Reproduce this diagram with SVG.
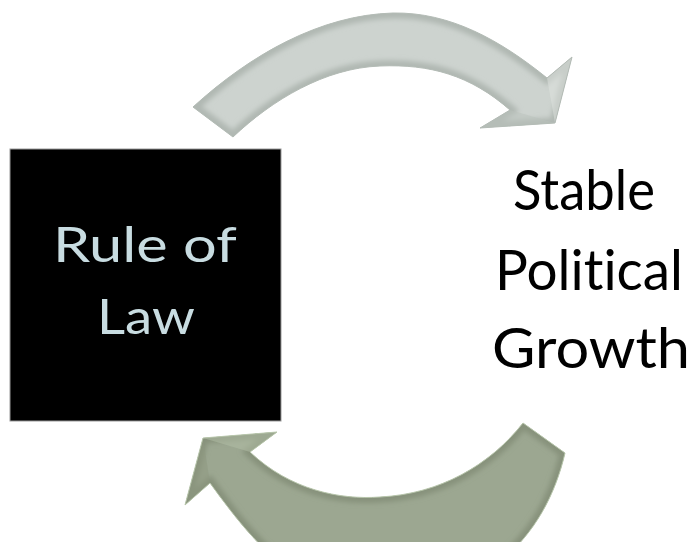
<svg xmlns="http://www.w3.org/2000/svg" width="691" height="542" viewBox="0 0 691 542">
  <defs>
    <style>
      .label { font-family: Lato, "Open Sans", "DejaVu Sans", sans-serif; font-variant-ligatures: none; }
      .label-light { font-size: 48px; fill: #c8dce1; }
      .label-dark { font-size: 56px; fill: #000000; }
    </style>
    <!-- curved arrow outlines -->
    <path id="arrowTop" d="M193,107 C250,55 320,15 393,13 C450,12 500,40 547,78 L572,57 L555,123 L480,128 L510,110 C470,75 430,64 380,66 C325,68 272,100 233,137 Z"/>
    <path id="arrowBottom" d="M565,453 C545,540 480,600 385,600 C300,600 255,545 210,483 L185,505 L203,438 L277,432 L250,452 C290,490 340,500 380,497 C440,494 490,465 523,423 Z"/>
    <clipPath id="clipTop"><use href="#arrowTop"/></clipPath>
    <clipPath id="clipBottom"><use href="#arrowBottom"/></clipPath>
    <filter id="soften" x="-10%" y="-10%" width="120%" height="120%">
      <feGaussianBlur stdDeviation="2.5"/>
    </filter>
  </defs>

  <rect width="691" height="542" fill="#ffffff"/>

  <g id="connectors">
    <!-- upper arrow: Rule of Law -> Stable Political Growth -->
    <g id="arrow-top">
      <use href="#arrowTop" fill="#cdd3cf"/>
      <g clip-path="url(#clipTop)">
        <use href="#arrowTop" fill="none" stroke="#b0b8b2" stroke-width="11" filter="url(#soften)"/>
        <!-- arrowhead facets -->
        <polygon points="547,78 572,57 555,123" fill="#dfe4e0" opacity="0.5"/>
        <polygon points="510,110 480,128 555,123" fill="#bac2bc" opacity="0.5"/>
      </g>
      <use href="#arrowTop" fill="none" stroke="#b4bcb6" stroke-width="1"/>
    </g>
    <!-- lower arrow: Stable Political Growth -> Rule of Law -->
    <g id="arrow-bottom">
      <use href="#arrowBottom" fill="#9ca791"/>
      <g clip-path="url(#clipBottom)">
        <use href="#arrowBottom" fill="none" stroke="#87927c" stroke-width="11" filter="url(#soften)"/>
        <!-- arrowhead facets -->
        <polygon points="250,452 277,432 203,438" fill="#b3bfa8" opacity="0.5"/>
        <polygon points="210,483 185,505 203,438" fill="#8d987f" opacity="0.5"/>
      </g>
      <use href="#arrowBottom" fill="none" stroke="#b8c6ac" stroke-width="1"/>
    </g>
  </g>

  <g id="node-rule-of-law">
    <rect x="10" y="149" width="271" height="272" fill="#000000" stroke="#9a9a9a" stroke-width="1"/>
    <text class="label label-light" x="53" y="262" textLength="184" lengthAdjust="spacingAndGlyphs">Rule of</text>
    <text class="label label-light" x="97" y="334" textLength="98" lengthAdjust="spacingAndGlyphs">Law</text>
  </g>

  <g id="node-stable-political-growth">
    <text class="label label-dark" x="513" y="210" textLength="142" lengthAdjust="spacingAndGlyphs">Stable</text>
    <text class="label label-dark" x="495" y="290" textLength="188" lengthAdjust="spacingAndGlyphs">Political</text>
    <text class="label label-dark" x="492" y="368" textLength="198" lengthAdjust="spacingAndGlyphs">Growth</text>
  </g>
</svg>
